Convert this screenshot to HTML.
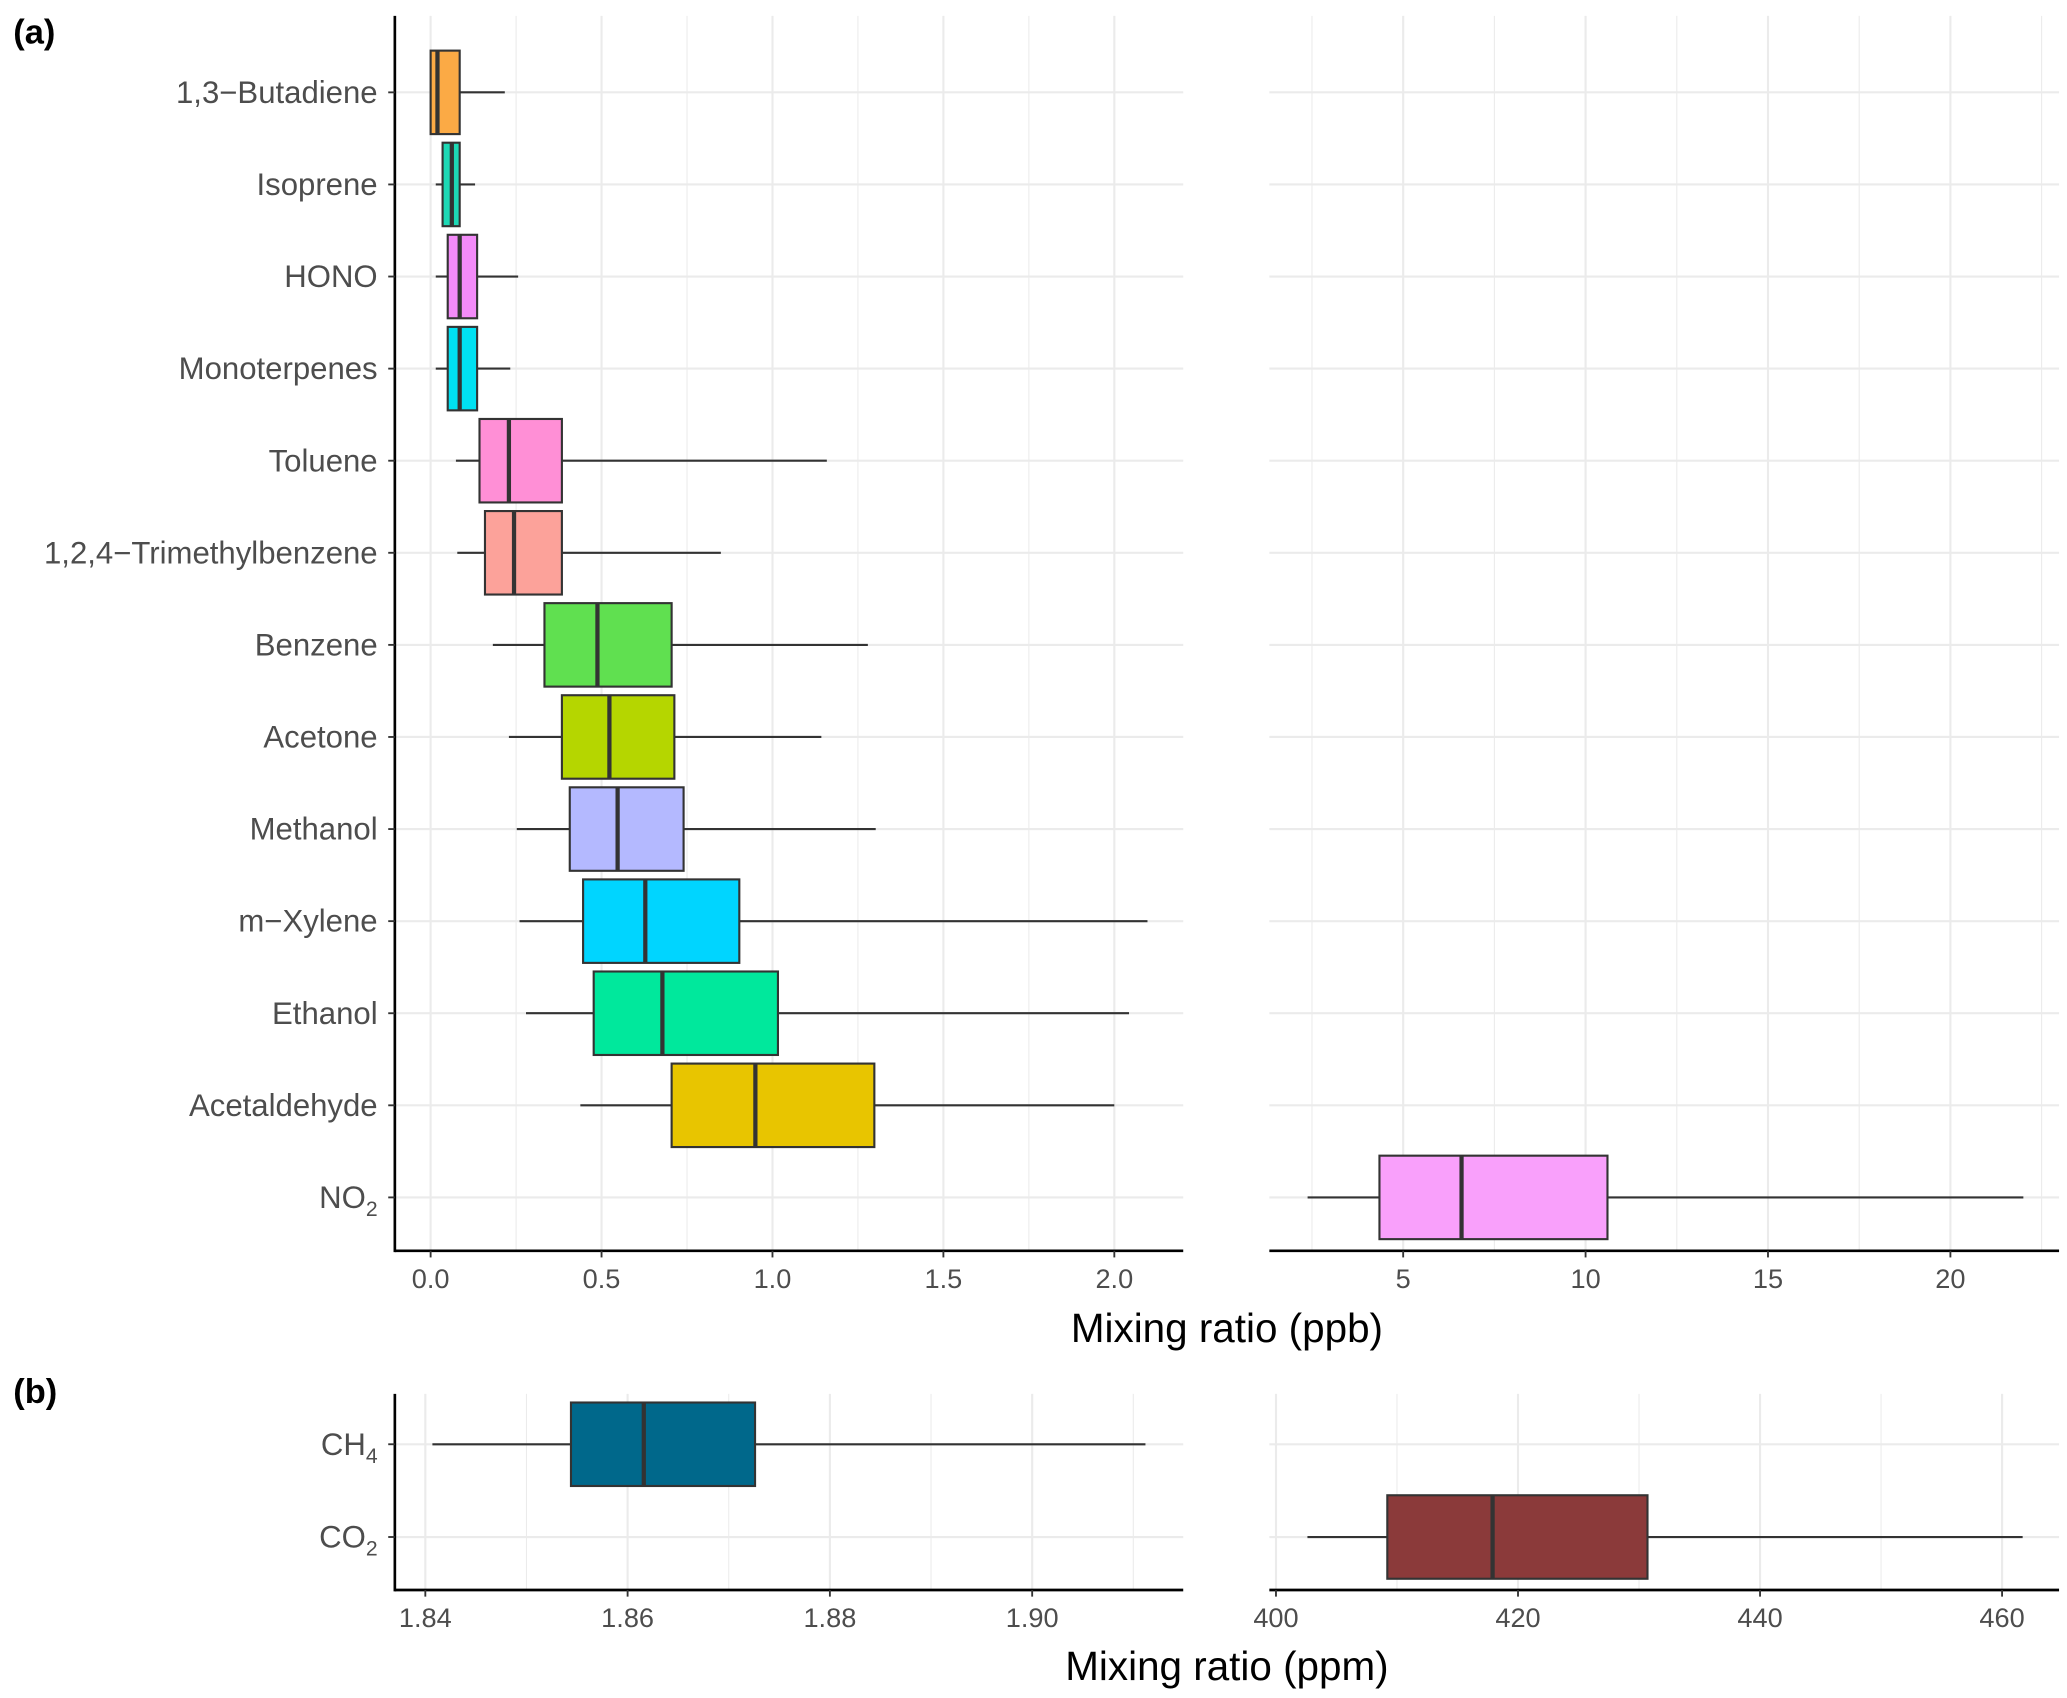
<!DOCTYPE html>
<html><head><meta charset="utf-8"><style>
html,body{margin:0;padding:0;background:#fff}
svg{display:block}
text{font-family:"Liberation Sans",Arial,sans-serif}
</style></head><body>
<svg id="chart" width="2067" height="1698" viewBox="0 0 1560 1281.5" xmlns="http://www.w3.org/2000/svg">
<rect width="1560" height="1281.5" fill="#fff"/>
<text x="10" y="33" font-size="26" font-weight="bold">(a)</text>
<text x="10" y="1059" font-size="26" font-weight="bold">(b)</text>
<text x="926" y="1013" font-size="30.5" text-anchor="middle" fill="#000">Mixing ratio (ppb)</text>
<text x="926" y="1268" font-size="30.5" text-anchor="middle" fill="#000">Mixing ratio (ppm)</text>
</svg>
<script>
// Panel (a) VOC data
const vocNames = ["1,3\u2212Butadiene","Isoprene","HONO","Monoterpenes","Toluene","1,2,4\u2212Trimethylbenzene","Benzene","Acetone","Methanol","m\u2212Xylene","Ethanol","Acetaldehyde"];
const vocLow = [0.0,0.015,0.015,0.015,0.074,0.078,0.182,0.229,0.252,0.26,0.279,0.438];
const vocQ1 = [0.0,0.035,0.05,0.05,0.143,0.159,0.333,0.384,0.407,0.446,0.477,0.705];
const vocMed = [0.02,0.062,0.085,0.085,0.229,0.244,0.488,0.523,0.547,0.628,0.678,0.95];
const vocQ3 = [0.085,0.085,0.136,0.136,0.384,0.384,0.705,0.713,0.74,0.903,1.016,1.298];
const vocHigh = [0.217,0.13,0.256,0.233,1.159,0.849,1.279,1.143,1.302,2.097,2.043,2.0];
const vocColors = ["#FBAA45","#1DD9B5","#F38BF8","#00E1F2","#FF8FD6","#FCA29A","#60E050","#B5D600","#B4B9FF","#00D5FF","#00E89C","#E8C500"];
const ticksA = [0,0.5,1.0,1.5,2.0];
const tickLabelsA = ["0.0","0.5","1.0","1.5","2.0"];
// NO2
const no2Stats = [2.38,4.35,6.6,10.6,22.0];
const ticksNO2 = [5,10,15,20];
// Panel (b)
const ch4Stats = [1.8407,1.8544,1.8616,1.8726,1.9112];
const ticksCH4 = [1.84,1.86,1.88,1.90];
const tickLabelsCH4 = ["1.84","1.86","1.88","1.90"];
const co2Stats = [402.6,409.2,417.9,430.7,461.7];
const ticksCO2 = [400,420,440,460];

const svg = document.getElementById('chart');
const NS = 'http://www.w3.org/2000/svg';
function mk(tag, attrs, parent){const e=document.createElementNS(NS,tag);for(const k in attrs)e.setAttribute(k,attrs[k]);(parent||svg).appendChild(e);return e;}
function lin(d0,d1,r0,r1){return v=>r0+(v-d0)*(r1-r0)/(d1-d0);}

function panel(opts){
  const {x0,x1,yTop,yBot,sx,ticks,labels,cats,catY,yAxis,name}=opts;
  const g=mk('g',{});
  
  
  const step=ticks[1]-ticks[0];
  for(let i=0;i<ticks.length+1;i++){
    const v=ticks[0]+(i-0.5)*step;
    const x=sx(v);
    if(x>x0&&x<x1) mk('line',{x1:x,x2:x,y1:yTop,y2:yBot,stroke:'#EBEBEB','stroke-width':0.8},g);
  }
  ticks.forEach(t=>{const x=sx(t);mk('line',{x1:x,x2:x,y1:yTop,y2:yBot,stroke:'#EBEBEB','stroke-width':1.6},g);});
  catY.forEach(y=>mk('line',{x1:x0,x2:x1,y1:y,y2:y,stroke:'#EBEBEB','stroke-width':1.6},g));
  mk('line',{x1:x0,x2:x1,y1:yBot,y2:yBot,stroke:'#000','stroke-width':2},g);
  ticks.forEach((t,i)=>{const x=sx(t);
    mk('line',{x1:x,x2:x,y1:yBot,y2:yBot+5,stroke:'#333','stroke-width':1.4},g);
    const tx=mk('text',{x:x,y:yBot+28,'font-size':20.5,'text-anchor':'middle',fill:'#4D4D4D'},g);
    
    
    tx.textContent=labels[i];});
  if(yAxis){
    mk('line',{x1:x0,x2:x0,y1:yTop,y2:yBot+1,stroke:'#000','stroke-width':2},g);
    cats.forEach((c,i)=>{const y=catY[i];
      mk('line',{x1:x0-5,x2:x0,y1:y,y2:y,stroke:'#333','stroke-width':1.4},g);
      const tx=mk('text',{x:x0-13,y:y+8,'font-size':23.5,'text-anchor':'end',fill:'#4D4D4D'},g);
      
      
      if(typeof c==='object'){tx.textContent=c.main;const ts=mk('tspan',{'font-size':16,dy:6},tx);ts.textContent=c.subscript;}
      else tx.textContent=c;});
  }
  return g;
}
function box(g,sx,y,h,s,color,name){
  const b=mk('g',{},g);
  
  
  mk('line',{x1:sx(s[0]),x2:sx(s[1]),y1:y,y2:y,stroke:'#333','stroke-width':1.6},b);
  mk('line',{x1:sx(s[3]),x2:sx(s[4]),y1:y,y2:y,stroke:'#333','stroke-width':1.6},b);
  mk('rect',{x:sx(s[1]),y:y-h/2,width:sx(s[3])-sx(s[1]),height:h,fill:color,stroke:'#333','stroke-width':1.6},b);
  mk('line',{x1:sx(s[2]),x2:sx(s[2]),y1:y-h/2,y2:y+h/2,stroke:'#333','stroke-width':3.2},b);
}

const rowA=69.5, topA=28, catYA=[];
for(let i=0;i<13;i++) catYA.push(topA+rowA*0.6+rowA*i);
const yBotA=944;
const sxA=lin(0,2.0,325,841);
const gA=panel({x0:298,x1:893,yTop:topA-16,yBot:yBotA,sx:sxA,ticks:ticksA,labels:tickLabelsA,
  cats:vocNames.concat([{main:'NO',subscript:'2'}]),catY:catYA,yAxis:true,name:'panel-a-voc'});
vocNames.forEach((n,i)=>box(gA,sxA,catYA[i],63,[vocLow[i],vocQ1[i],vocMed[i],vocQ3[i],vocHigh[i]],vocColors[i],'box-'+i));
const sxN=lin(5,20,1059,1472);
const gN=panel({x0:958,x1:1554,yTop:topA-16,yBot:yBotA,sx:sxN,ticks:ticksNO2,labels:ticksNO2.map(String),cats:[],catY:catYA,yAxis:false,name:'panel-a-no2'});
box(gN,sxN,catYA[12],63,no2Stats,'#F9A0FB','box-no2');

const catYB=[1090,1160];
const sxC=lin(1.84,1.90,321,779);
const gC=panel({x0:298,x1:893,yTop:1052,yBot:1200,sx:sxC,ticks:ticksCH4,labels:tickLabelsCH4,
  cats:[{main:'CH',subscript:'4'},{main:'CO',subscript:'2'}],catY:catYB,yAxis:true,name:'panel-b-ch4'});
box(gC,sxC,catYB[0],63,ch4Stats,'#00688B','box-ch4');
const sxO=lin(400,460,963,1511);
const gO=panel({x0:958,x1:1554,yTop:1052,yBot:1200,sx:sxO,ticks:ticksCO2,labels:ticksCO2.map(String),cats:[],catY:catYB,yAxis:false,name:'panel-b-co2'});
box(gO,sxO,catYB[1],63,co2Stats,'#8B3A3A','box-co2');
</script>
</body></html>
